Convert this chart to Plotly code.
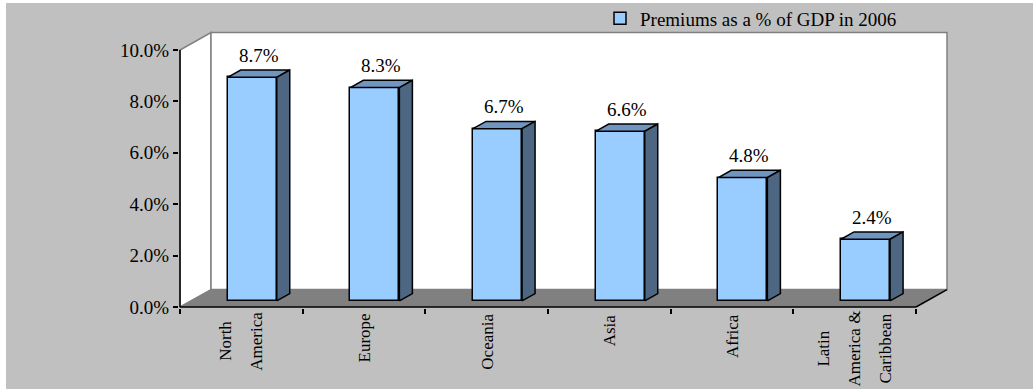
import plotly.graph_objects as go

# ---------------- data ----------------
categories = ["North America", "Europe", "Oceania", "Asia", "Africa", "Latin America & Caribbean"]
category_lines = [["North", "America"], ["Europe"], ["Oceania"], ["Asia"], ["Africa"],
                  ["Latin", "America &", "Caribbean"]]
values = [8.7, 8.3, 6.7, 6.6, 4.8, 2.4]
y_tick_values = [0, 2, 4, 6, 8, 10]
y_tick_labels = ["0.0%", "2.0%", "4.0%", "6.0%", "8.0%", "10.0%"]
series_name = "Premiums as a % of GDP in 2006"

# ---------------- layout geometry ----------------
W, H = 1033, 389
CAT_PX = (916 - 180) / 6          # pixels per category
UNIT_PX = (307 - 50) / 10         # pixels per percentage point
X0_PX, Y0_PX = 180, 307           # pixel of origin
PL, PR, PT, PB = 179, 950, 30, 308  # plot-area edges (px)

x_range = [(PL - X0_PX) / CAT_PX, (PR - X0_PX) / CAT_PX]
y_range = [(Y0_PX - PB) / UNIT_PX, (Y0_PX - PT) / UNIT_PX]

DDX = 31 / CAT_PX      # depth offset, x (data units)
DDY = 17.4 / UNIT_PX   # depth offset, y (data units)
BAR_W = 0.4
F0, F1 = 0.35, 0.77    # bar depth (front / back fraction)
N = len(categories)
YMAX = max(y_tick_values)

FONT = "Liberation Serif"
FRONT = "#99CCFF"
TOP = "#7096C0"
SIDE = "#4D6782"
GREY_WALL = "#808080"
BG = "#C0C0C0"

fig = go.Figure()

# front faces: real bars
centers = [i + 0.5 for i in range(N)]
fig.add_trace(go.Bar(
    x=[c + F0 * DDX for c in centers], y=values, base=F0 * DDY, width=BAR_W,
    marker=dict(color=FRONT, line=dict(color="black", width=1.5)),
    name=series_name, showlegend=True, hoverinfo="skip"))

# top and side faces
tx, ty, sx, sy = [], [], [], []
dxx, dyy = (F1 - F0) * DDX, (F1 - F0) * DDY
for c, v in zip(centers, values):
    xl = c - BAR_W / 2 + F0 * DDX
    xr = xl + BAR_W
    yb = F0 * DDY
    yt = v + yb
    tx += [xl, xr, xr + dxx, xl + dxx, xl, None]
    ty += [yt, yt, yt + dyy, yt + dyy, yt, None]
    sx += [xr, xr, xr + dxx, xr + dxx, xr, None]
    sy += [yb, yt, yt + dyy, yb + dyy, yb, None]
fig.add_trace(go.Scatter(x=tx, y=ty, mode="lines", fill="toself", fillcolor=TOP,
                         line=dict(color="black", width=1.5), showlegend=False, hoverinfo="skip"))
fig.add_trace(go.Scatter(x=sx, y=sy, mode="lines", fill="toself", fillcolor=SIDE,
                         line=dict(color="black", width=1.5), showlegend=False, hoverinfo="skip"))

# walls / floor / axis lines
PW, PH = PR - PL, PB - PT
shapes = []
# white border strips of the picture
shapes.append(dict(type="rect", xref="paper", yref="paper", layer="below",
                   x0=-PL / PW, x1=(6 - PL) / PW,
                   y0=(PB - H) / PH, y1=PB / PH,
                   fillcolor="white", line=dict(width=0)))
shapes.append(dict(type="rect", xref="paper", yref="paper", layer="below",
                   x0=-PL / PW, x1=(W - PL) / PW,
                   y0=(PB - 3) / PH, y1=PB / PH,
                   fillcolor="white", line=dict(width=0)))
# left side wall
shapes.append(dict(type="path", layer="below", xref="x", yref="y",
                   path=f"M0,0 L0,{YMAX} L{DDX},{YMAX + DDY} L{DDX},{DDY} Z",
                   fillcolor="white", line=dict(color=GREY_WALL, width=1.5)))
# back wall
shapes.append(dict(type="rect", layer="below", xref="x", yref="y",
                   x0=DDX, y0=DDY, x1=N + DDX, y1=YMAX + DDY,
                   fillcolor="white", line=dict(color=GREY_WALL, width=1.5)))
# floor
shapes.append(dict(type="path", layer="below", xref="x", yref="y",
                   path=f"M0,0 L{N},0 L{N + DDX},{DDY} L{DDX},{DDY} Z",
                   fillcolor=GREY_WALL, line=dict(width=0)))
# axis lines
for (xa, ya, xb, yb_) in [(0, 0, 0, YMAX), (0, 0, N, 0), (N, 0, N + DDX, DDY)]:
    shapes.append(dict(type="line", layer="below", xref="x", yref="y",
                       x0=xa, y0=ya, x1=xb, y1=yb_, line=dict(color="black", width=1.5)))

annotations = []
# value labels
for c, v in zip(centers, values):
    annotations.append(dict(x=c + (F0 + F1) / 2 * DDX, y=v + F1 * DDY, xref="x", yref="y",
                            text=f"{v:.1f}%", showarrow=False, yanchor="bottom", yshift=2,
                            font=dict(family=FONT, size=19, color="black")))
# category labels (rotated, one annotation per line, lines centred)
CAT_FONT = 17
LINE_GAP = 31
for c, lines in zip(centers, category_lines):
    m = len(lines)
    est_len = max(len(s) for s in lines) * 0.47 * CAT_FONT
    for k, s in enumerate(lines):
        if m == 1:
            ya, ys = "top", -4
        else:
            ya, ys = "middle", -5 - est_len / 2
        annotations.append(dict(x=c, y=0, xref="x", yref="paper", text=s, showarrow=False,
                                textangle=-90, xanchor="center", yanchor=ya, yshift=ys,
                                xshift=(k - (m - 1) / 2) * LINE_GAP,
                                font=dict(family=FONT, size=CAT_FONT, color="black")))

fig.update_layout(
    width=W, height=H,
    margin=dict(l=PL, r=W - PR, t=PT, b=H - PB, pad=0, autoexpand=False),
    paper_bgcolor=BG, plot_bgcolor="rgba(0,0,0,0)",
    shapes=shapes, annotations=annotations,
    bargap=0,
    showlegend=True,
    legend=dict(x=(600 - PL) / PW, xanchor="left",
                y=(PB - 18.5) / PH, yanchor="middle",
                bgcolor="rgba(0,0,0,0)", borderwidth=0,
                font=dict(family=FONT, size=19, color="black")),
    xaxis=dict(range=x_range, tickvals=list(range(N + 1)), ticktext=[""] * (N + 1),
               ticks="outside", ticklen=5, tickwidth=1.5, tickcolor="black",
               showgrid=False, zeroline=False, showline=False, fixedrange=True),
    yaxis=dict(range=y_range, tickvals=y_tick_values, ticktext=y_tick_labels,
               ticks="outside", ticklen=5, tickwidth=1.5, tickcolor="black",
               showgrid=False, zeroline=False, showline=False, fixedrange=True,
               tickfont=dict(family=FONT, size=19, color="black")),
)

fig.write_html("out.html")
